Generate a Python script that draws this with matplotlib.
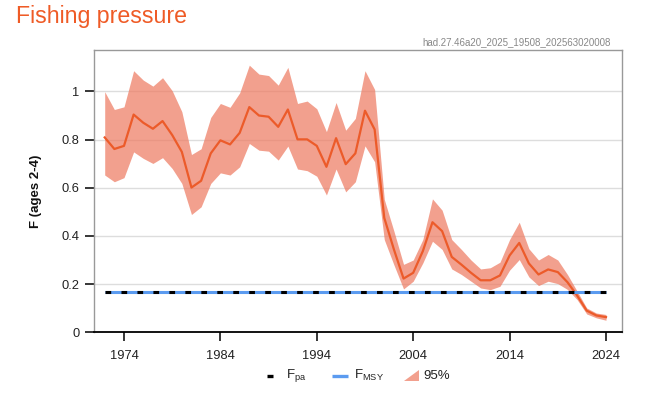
import matplotlib
matplotlib.use("Agg")
import matplotlib.pyplot as plt
from matplotlib.lines import Line2D
from matplotlib.patches import Polygon
import numpy as np

plt.rcParams['font.family'] = ['Liberation Sans', 'DejaVu Sans']
plt.rcParams['mathtext.fontset'] = 'custom'
plt.rcParams['mathtext.rm'] = 'Liberation Sans'
plt.rcParams['lines.scale_dashes'] = False

years = list(range(1972, 2025))
f_median = [0.809, 0.761, 0.774, 0.904, 0.870, 0.845, 0.877, 0.819, 0.749, 0.601,
            0.629, 0.743, 0.797, 0.780, 0.828, 0.935, 0.900, 0.895, 0.853, 0.925,
            0.801, 0.801, 0.774, 0.687, 0.806, 0.698, 0.743, 0.920, 0.842, 0.475,
            0.344, 0.223, 0.247, 0.337, 0.457, 0.420, 0.313, 0.281, 0.247, 0.216,
            0.216, 0.236, 0.319, 0.371, 0.286, 0.240, 0.261, 0.250, 0.208, 0.153,
            0.090, 0.070, 0.063]
f_upper = [0.999, 0.925, 0.936, 1.086, 1.047, 1.022, 1.057, 1.003, 0.916, 0.738,
           0.762, 0.892, 0.950, 0.934, 0.994, 1.109, 1.072, 1.066, 1.026, 1.100,
           0.950, 0.960, 0.928, 0.833, 0.954, 0.839, 0.888, 1.086, 1.008, 0.552,
           0.420, 0.282, 0.300, 0.385, 0.554, 0.507, 0.385, 0.344, 0.300, 0.263,
           0.268, 0.291, 0.385, 0.457, 0.347, 0.300, 0.323, 0.300, 0.240, 0.171,
           0.101, 0.080, 0.074]
f_lower = [0.653, 0.625, 0.642, 0.749, 0.722, 0.701, 0.725, 0.680, 0.618, 0.489,
           0.521, 0.618, 0.662, 0.653, 0.687, 0.784, 0.756, 0.752, 0.715, 0.773,
           0.678, 0.671, 0.648, 0.570, 0.678, 0.583, 0.625, 0.774, 0.708, 0.385,
           0.280, 0.180, 0.212, 0.288, 0.378, 0.344, 0.263, 0.240, 0.212, 0.184,
           0.177, 0.191, 0.258, 0.302, 0.230, 0.194, 0.212, 0.202, 0.178, 0.136,
           0.076, 0.060, 0.050]
f_pa = 0.167
f_msy = 0.167
x_ticks = [1974, 1984, 1994, 2004, 2014, 2024]
y_ticks = [0, 0.2, 0.4, 0.6, 0.8, 1.0]
y_ticklabels = ["0", "0.2", "0.4", "0.6", "0.8", "1"]

W, H = 660, 397
fig = plt.figure(figsize=(W / 100, H / 100), dpi=100)
fig.patch.set_facecolor('white')

def fx(px):
    return px / W

def fy(py):
    return 1 - py / H

ax_left, ax_right, ax_top, ax_bottom = 94.3, 622.0, 50.0, 332.3
ax = fig.add_axes([fx(ax_left), fy(ax_bottom), fx(ax_right) - fx(ax_left), fy(ax_top) - fy(ax_bottom)])
ax.set_xlim(1970.92, 2025.66)
ax.set_ylim(0, 1.172)

line_col = '#EC5B2A'
fill_col = '#EE7B62'

ax.fill_between(years, f_lower, f_upper, color=fill_col, alpha=0.72, lw=0, zorder=2)
ax.plot(years, f_median, color=line_col, lw=1.6, zorder=3)

ax.plot([years[0], years[-1]], [f_msy, f_msy], color='#5B9BF0', lw=2.2,
        solid_capstyle='butt', zorder=4)
ax.plot([years[0], years[-1]], [f_pa, f_pa], color='black', lw=2.2,
        dashes=(4.1, 7.4), dash_capstyle='butt', zorder=5)

ax.set_yticks(y_ticks)
ax.set_yticklabels(y_ticklabels)
ax.set_xticks(x_ticks)
ax.grid(axis='y', color='#DDDDDD', lw=1.0, zorder=0)
ax.set_axisbelow(True)

for s in ['left', 'top', 'right']:
    ax.spines[s].set_color('#999999')
    ax.spines[s].set_linewidth(1.0)
ax.spines['bottom'].set_color('black')
ax.spines['bottom'].set_linewidth(1.3)

ax.tick_params(axis='both', direction='out', length=6.5, width=1.1, color='black',
               labelsize=9.3, labelcolor='#222222')
ax.tick_params(axis='x', pad=6)
ax.tick_params(axis='y', pad=4)

ax.set_ylabel('F (ages 2-4)', fontsize=9.5, fontweight='bold', color='#111111')
ax.yaxis.set_label_coords((42 - ax_left) / (ax_right - ax_left), 0.5)

fig.text(fx(16), fy(17), 'Fishing pressure', fontsize=16.7, color='#EF5B26',
         ha='left', va='center')
fig.text(fx(611), fy(42), 'had.27.46a20_2025_19508_202563020008', fontsize=7,
         color='#888888', ha='right', va='center')

# legend
ly = fy(375.7)
fig.add_artist(Line2D([fx(267), fx(273)], [ly, ly], color='black', lw=2.4,
                      transform=fig.transFigure, solid_capstyle='butt'))
fig.text(fx(286), ly, r'F$_{\mathrm{pa}}$', fontsize=9.5, color='#222222',
         ha='left', va='center')
fig.add_artist(Line2D([fx(332), fx(348)], [ly, ly], color='#5B9BF0', lw=2.4,
                      transform=fig.transFigure, solid_capstyle='butt'))
fig.text(fx(354), ly, r'F$_{\mathrm{MSY}}$', fontsize=9.5, color='#222222',
         ha='left', va='center')
fig.add_artist(Polygon([[fx(404), fy(381)], [fx(419), fy(381)], [fx(419), fy(370)]],
                       closed=True, transform=fig.transFigure,
                       facecolor=fill_col, alpha=0.72, lw=0))
fig.text(fx(423), ly, '95%', fontsize=9.5, color='#222222', ha='left', va='center')

fig.savefig('out.png', dpi=100)
